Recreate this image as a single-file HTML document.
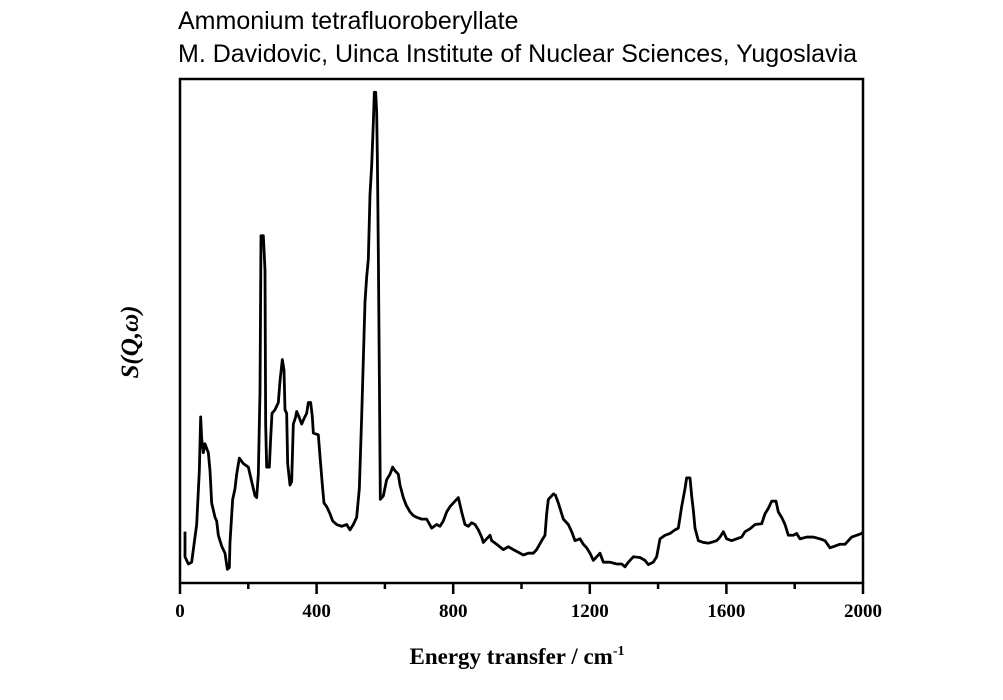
<!DOCTYPE html>
<html><head><meta charset="utf-8"><style>
html,body{margin:0;padding:0;background:#fff;}
svg{display:block;}
</style></head><body>
<svg width="1003" height="700" viewBox="0 0 1003 700" xmlns="http://www.w3.org/2000/svg">
<rect width="1003" height="700" fill="#fff"/>
<text x="178" y="29" font-family="Liberation Sans, sans-serif" font-size="25" fill="#000">Ammonium tetrafluoroberyllate</text>
<text x="178" y="62" font-family="Liberation Sans, sans-serif" font-size="25" fill="#000">M. Davidovic, Uinca Institute of Nuclear Sciences, Yugoslavia</text>
<rect x="180" y="79" width="683" height="504" fill="none" stroke="#000" stroke-width="2.5"/>
<g stroke="#000" stroke-width="2.5">
<line x1="180" y1="583" x2="180" y2="594"/>
<line x1="248.3" y1="583" x2="248.3" y2="589"/>
<line x1="316.6" y1="583" x2="316.6" y2="594"/>
<line x1="384.9" y1="583" x2="384.9" y2="589"/>
<line x1="453.2" y1="583" x2="453.2" y2="594"/>
<line x1="521.5" y1="583" x2="521.5" y2="589"/>
<line x1="589.8" y1="583" x2="589.8" y2="594"/>
<line x1="658.1" y1="583" x2="658.1" y2="589"/>
<line x1="726.4" y1="583" x2="726.4" y2="594"/>
<line x1="794.7" y1="583" x2="794.7" y2="589"/>
<line x1="863" y1="583" x2="863" y2="594"/>
</g>
<g font-family="Liberation Serif, serif" font-weight="bold" font-size="19" text-anchor="middle" fill="#000">
<text x="180" y="617">0</text><text x="316.6" y="617">400</text><text x="453.2" y="617">800</text>
<text x="589.8" y="617">1200</text><text x="726.4" y="617">1600</text><text x="863" y="617">2000</text>
</g>
<text x="517" y="664" font-family="Liberation Serif, serif" font-weight="bold" font-size="23" text-anchor="middle">Energy transfer / cm<tspan dy="-9" font-size="14">-1</tspan></text>
<text transform="translate(138,342) rotate(-90)" font-family="Liberation Serif, serif" font-weight="bold" font-style="italic" font-size="25" text-anchor="middle">S(Q,ω)</text>
<g transform="translate(150,58.2) scale(0.33333,0.3587)">
<polyline fill="none" stroke="#000" stroke-width="2.8" vector-effect="non-scaling-stroke" stroke-linejoin="round" points="105,1320 105,1390 115,1410 125,1405 130,1370 140,1300 148,1150 152,1000 155,1060 160,1100 165,1075 175,1100 180,1150 185,1240 195,1280 200,1290 205,1330 215,1360 225,1380 232,1425 238,1420 240,1350 248,1230 255,1200 260,1160 268,1115 280,1130 295,1140 305,1180 315,1220 320,1225 325,1160 330,930 333,495 340,495 345,590 347,1020 350,1140 358,1140 362,1060 366,990 375,980 385,960 390,900 397,840 402,870 405,980 410,990 413,1130 420,1190 425,1180 430,1020 437,1000 440,985 447,1000 455,1020 462,1005 470,990 475,960 482,960 487,1000 490,1045 505,1050 510,1110 518,1200 522,1240 530,1250 540,1270 548,1290 560,1300 575,1305 590,1300 600,1315 610,1300 620,1280 628,1200 635,1000 640,840 645,680 650,610 655,560 660,380 665,300 670,180 673,95 677,95 680,150 682,270 685,540 688,880 691,1230 700,1220 710,1175 720,1160 728,1140 735,1150 745,1160 750,1190 760,1225 768,1245 780,1265 790,1275 800,1280 815,1285 830,1285 845,1310 860,1300 870,1305 880,1290 890,1265 900,1250 915,1235 925,1225 935,1265 945,1300 955,1305 965,1295 975,1300 985,1315 995,1335 1000,1350 1010,1340 1020,1330 1025,1345 1040,1355 1060,1370 1075,1362 1090,1370 1100,1375 1120,1385 1135,1380 1150,1380 1160,1370 1175,1345 1185,1330 1190,1270 1195,1230 1210,1215 1215,1215"/>
</g>
<g transform="translate(550,58.2) scale(0.33333,0.3587)">
<polyline fill="none" stroke="#000" stroke-width="2.8" vector-effect="non-scaling-stroke" stroke-linejoin="round" points="15,1215 25,1240 40,1285 55,1300 65,1320 75,1345 90,1340 100,1355 110,1365 120,1380 130,1400 140,1390 150,1380 160,1405 180,1405 200,1410 215,1410 225,1418 235,1405 250,1390 270,1392 285,1400 295,1412 310,1405 320,1390 330,1340 345,1330 360,1325 375,1315 385,1310 395,1250 405,1200 410,1170 420,1170 425,1220 430,1260 435,1310 445,1345 460,1350 475,1352 490,1348 500,1345 510,1335 520,1320 530,1340 545,1345 560,1340 575,1335 585,1320 600,1312 615,1300 635,1298 645,1270 655,1255 665,1235 678,1235 685,1265 695,1280 705,1300 715,1330 730,1330 740,1325 750,1340 770,1335 790,1335 810,1340 825,1345 840,1365 855,1360 870,1355 885,1355 895,1345 905,1335 920,1330 935,1325 940,1320"/>
</g>
</svg>
</body></html>
